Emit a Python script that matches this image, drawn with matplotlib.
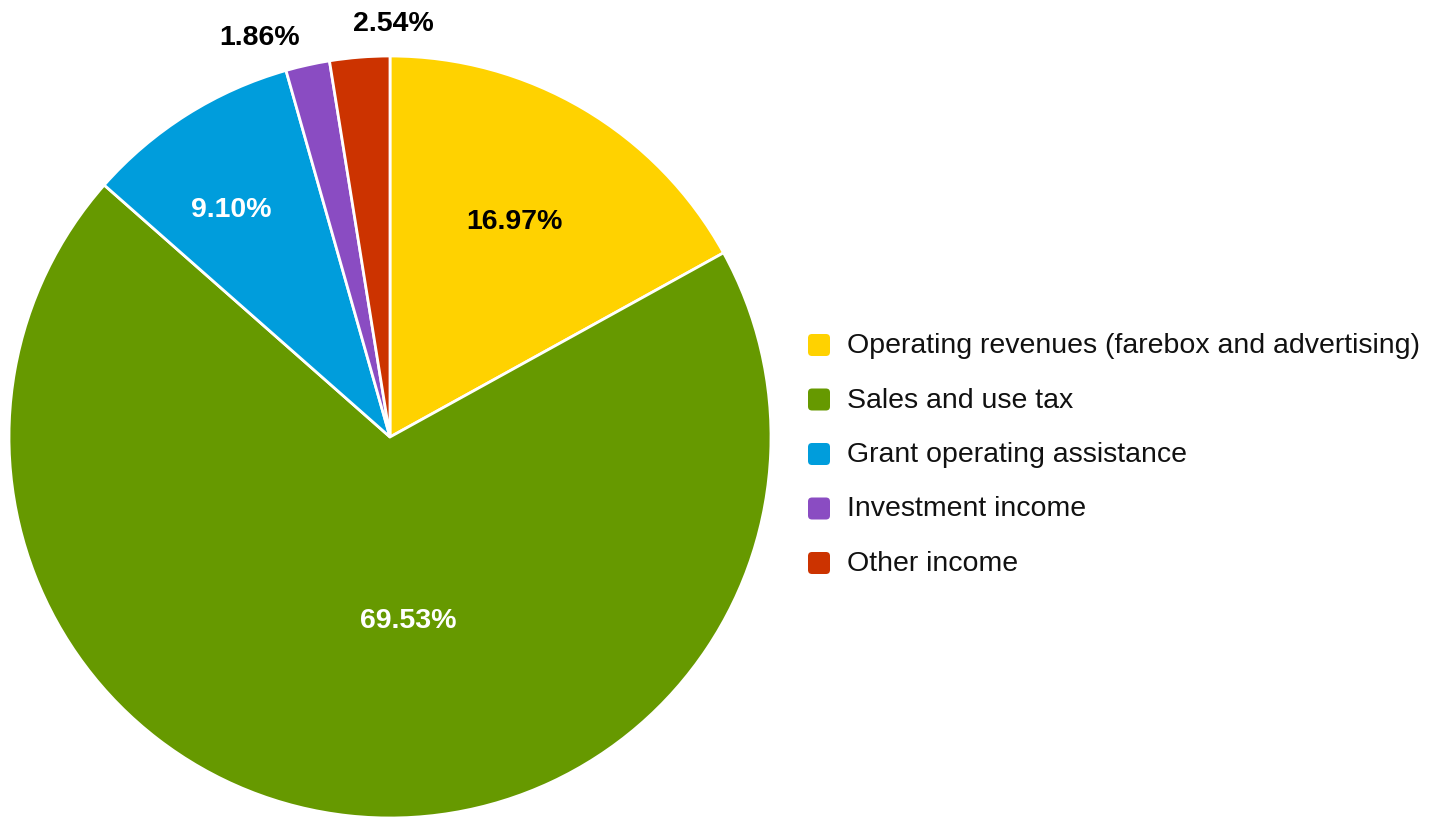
import matplotlib.pyplot as plt
from matplotlib.patches import FancyBboxPatch

plt.rcParams['font.family'] = ['Liberation Sans', 'DejaVu Sans']

categories = ['Operating revenues (farebox and advertising)', 'Sales and use tax',
              'Grant operating assistance', 'Investment income', 'Other income']
shares = [16.97, 69.53, 9.10, 1.86, 2.54]
colors = ['#FFD200', '#669900', '#009DDC', '#8A4CC2', '#CC3300']
label_colors = ['black', 'white', 'white', 'black', 'black']
# label anchor points in pixel coords (x, y from top), as placed in the original
label_pos = [(514, 222), (408, 621), (231, 210), (260, 38), (393, 24)]

W, H = 1443, 819
fig = plt.figure(figsize=(W / 100, H / 100), dpi=100)
ax = fig.add_axes([0, 0, 1, 1])

cx, cy, r = 390, H - 437, 381
ax.pie(shares, colors=colors, startangle=90, counterclock=False,
       center=(cx, cy), radius=r, frame=True,
       wedgeprops=dict(edgecolor='white', linewidth=2))
ax.set_xlim(0, W)
ax.set_ylim(0, H)
ax.set_aspect('equal')
ax.axis('off')

for val, (px, py), c in zip(shares, label_pos, label_colors):
    ax.text(px, H - py, f'{val:.2f}%', ha='center', va='center',
            fontsize=20.5, fontweight='bold', color=c)

# legend
y0, dy = 345, 54.5
for i, (name, col) in enumerate(zip(categories, colors)):
    yy = H - (y0 + i * dy)
    ax.add_patch(FancyBboxPatch((808, yy - 11), 22, 22,
                                boxstyle='round,pad=0,rounding_size=4',
                                facecolor=col, edgecolor='none'))
    ax.text(847, yy - 1, name, ha='left', va='center', fontsize=20.5, color='#111111')

fig.savefig('out.png', dpi=100)
